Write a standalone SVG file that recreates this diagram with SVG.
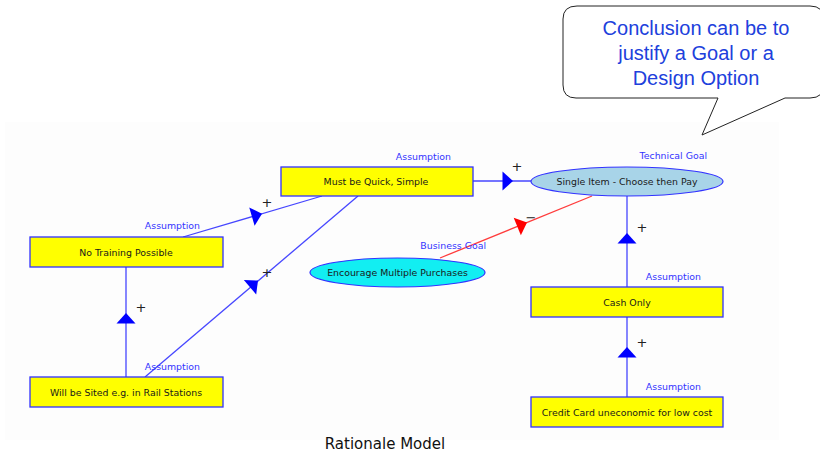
<svg xmlns="http://www.w3.org/2000/svg" width="820" height="457" viewBox="0 0 820 457">
  <style>
    .node-rect { fill: #ffff00; stroke: #3232ff; stroke-width: 1.3; }
    .node-ell { stroke: #3232ff; stroke-width: 1.2; }
    .node-text { font-family: "DejaVu Sans", Verdana, sans-serif; font-size: 9.4px; fill: #1a1a1a; text-anchor: middle; }
    .kind { font-family: "DejaVu Sans", Verdana, sans-serif; font-size: 9.4px; fill: #3333ff; text-anchor: end; }
    .link { stroke: #4646ff; stroke-width: 1.3; fill: none; }
    .link-neg { stroke: #ff3c3c; stroke-width: 1.3; fill: none; }
    .sign { font-family: "DejaVu Sans", Verdana, sans-serif; font-size: 13px; fill: #222222; text-anchor: middle; }
    .callout-text { font-family: "Liberation Sans", Arial, sans-serif; font-size: 20px; fill: #2040dc; text-anchor: middle; }
    .caption { font-family: "DejaVu Sans", Verdana, sans-serif; font-size: 15px; fill: #111111; text-anchor: middle; }
  </style>
  <defs>
    <!-- solid arrowhead pointing along +x, tip at origin -->
    <polygon id="head" points="0,0 -10.5,-9.5 -10.5,9.5"/>
  </defs>

  <rect width="820" height="457" fill="#ffffff"/>
  <!-- faint diagram panel -->
  <rect x="5" y="122" width="774" height="318" fill="#fdfdfd"/>

  <!-- speech-bubble callout -->
  <g id="callout">
    <path d="M577,6 L810,6 Q824,6 824,20 L824,84 Q824,98 810,98 L785,98 L702,135 L718,98 L576,98 Q563,98 563,85 L563,19 Q563,6 577,6 Z" fill="#ffffff" stroke="#222222" stroke-width="1"/>
    <text class="callout-text" x="696" y="35">Conclusion can be to</text>
    <text class="callout-text" x="696" y="60">justify a Goal or a</text>
    <text class="callout-text" x="696" y="85">Design Option</text>
  </g>

  <!-- connectors -->
  <g id="connectors">
    <line class="link" x1="473" y1="181" x2="531" y2="181"/>
    <use href="#head" fill="#0000ff" transform="translate(513,181)"/>
    <text class="sign" x="517" y="171">+</text>

    <line class="link" x1="183" y1="237" x2="322" y2="196"/>
    <use href="#head" fill="#0000ff" transform="translate(262,213.7) rotate(-16.4)"/>
    <text class="sign" x="267" y="207">+</text>

    <line class="link" x1="145" y1="377" x2="358" y2="196"/>
    <use href="#head" fill="#0000ff" transform="translate(258,280.5) rotate(-40.4)"/>
    <text class="sign" x="267" y="277">+</text>

    <line class="link" x1="126" y1="377" x2="126" y2="267"/>
    <use href="#head" fill="#0000ff" transform="translate(126,313) rotate(-90)"/>
    <text class="sign" x="141" y="312">+</text>

    <line class="link-neg" x1="440" y1="258" x2="592" y2="196"/>
    <use href="#head" fill="#ff0000" transform="translate(527,222.5) rotate(-22.2)"/>
    <text class="sign" x="531" y="222">−</text>

    <line class="link" x1="627" y1="287" x2="627" y2="196"/>
    <use href="#head" fill="#0000ff" transform="translate(627,233) rotate(-90)"/>
    <text class="sign" x="642" y="232">+</text>

    <line class="link" x1="627" y1="397" x2="627" y2="317"/>
    <use href="#head" fill="#0000ff" transform="translate(627,347) rotate(-90)"/>
    <text class="sign" x="642" y="347">+</text>
  </g>

  <!-- nodes -->
  <g id="node-quick">
    <rect class="node-rect" x="281" y="167" width="192" height="29"/>
    <text class="node-text" x="376" y="185">Must be Quick, Simple</text>
    <text class="kind" x="451" y="160">Assumption</text>
  </g>

  <g id="node-single-item">
    <ellipse class="node-ell" cx="627" cy="181.5" rx="96" ry="14.5" fill="#a8d4e8"/>
    <text class="node-text" x="627" y="185">Single Item - Choose then Pay</text>
    <text class="kind" x="707" y="159">Technical Goal</text>
  </g>

  <g id="node-no-training">
    <rect class="node-rect" x="30" y="237" width="193" height="30"/>
    <text class="node-text" x="126" y="256">No Training Possible</text>
    <text class="kind" x="200" y="229">Assumption</text>
  </g>

  <g id="node-sited">
    <rect class="node-rect" x="30" y="377" width="193" height="30"/>
    <text class="node-text" x="126" y="396">Will be Sited e.g. in Rail Stations</text>
    <text class="kind" x="200" y="370">Assumption</text>
  </g>

  <g id="node-multiple-purchases">
    <ellipse class="node-ell" cx="397.5" cy="272.5" rx="87.5" ry="14.5" fill="#12eef2"/>
    <text class="node-text" x="397.5" y="276">Encourage Multiple Purchases</text>
    <text class="kind" x="486" y="249">Business Goal</text>
  </g>

  <g id="node-cash-only">
    <rect class="node-rect" x="531" y="287" width="192" height="30"/>
    <text class="node-text" x="627" y="306">Cash Only</text>
    <text class="kind" x="701" y="280">Assumption</text>
  </g>

  <g id="node-credit-card">
    <rect class="node-rect" x="531" y="397" width="192" height="30"/>
    <text class="node-text" x="627" y="416">Credit Card uneconomic for low cost</text>
    <text class="kind" x="701" y="390">Assumption</text>
  </g>

  <text class="caption" x="385" y="449">Rationale Model</text>
</svg>
